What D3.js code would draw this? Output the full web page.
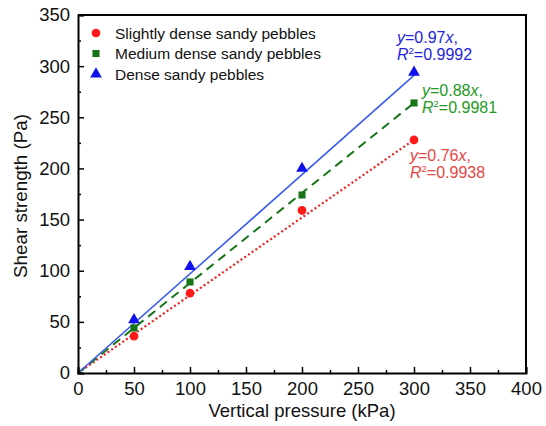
<!DOCTYPE html>
<html>
<head>
    <script src="https://d3js.org/d3.v7.min.js"></script>
    <style>
        body { margin: 0; background: #fff; }
        text { font-family: "Liberation Sans", Arial, sans-serif; }
    </style>
</head>
<body>
<div id="chart"></div>
<script>
    // data
    const pressure = [50, 100, 200, 300];
    const slightly = [36, 78, 159, 228];
    const medium = [44, 89, 174, 264];
    const dense = [52, 104, 200, 294];
    const slopes = [0.76, 0.88, 0.97];
    const r2 = ["0.9938", "0.9981", "0.9992"];
    const names = ["Slightly dense sandy pebbles", "Medium dense sandy pebbles", "Dense sandy pebbles"];
    const xTicks = [0, 50, 100, 150, 200, 250, 300, 350, 400];
    const yTicks = [0, 50, 100, 150, 200, 250, 300, 350];

    const W = 546, H = 426;
    const margin = { top: 15, right: 20, bottom: 53, left: 78 };
    const width = W - margin.left - margin.right;
    const height = H - margin.top - margin.bottom;

    const svg = d3.select("#chart").append("svg")
        .attr("width", W).attr("height", H);
    const g = svg.append("g")
        .attr("transform", `translate(${margin.left},${margin.top})`);

    const x = d3.scaleLinear().domain([0, 400]).range([0, width]);
    const y = d3.scaleLinear().domain([0, 350]).range([height, 0]);

    const series = [
        { name: names[0], values: slightly, slope: slopes[0], r2: r2[0], color: "#ff1a1a", textColor: "#e84545", dash: "2,2.5", width: 2.2, shape: d3.symbolCircle, size: 60 },
        { name: names[1], values: medium, slope: slopes[1], r2: r2[1], color: "#167516", textColor: "#239a23", dash: "9,6", width: 2, shape: d3.symbolSquare, size: 50 },
        { name: names[2], values: dense, slope: slopes[2], r2: r2[2], color: "#1010ee", textColor: "#2424dd", dash: null, width: 1.6, shape: d3.symbolTriangle, size: 60 }
    ];
    const lineColors = ["#f02020", "#167516", "#3a5cf0"];

    // fitted lines through origin
    series.forEach((s, i) => {
        const line = g.append("line")
            .attr("x1", x(0)).attr("y1", y(0))
            .attr("x2", x(300)).attr("y2", y(s.slope * 300))
            .attr("stroke", lineColors[i])
            .attr("stroke-width", s.width);
        if (s.dash) line.attr("stroke-dasharray", s.dash);
    });

    // points
    series.forEach(s => {
        g.selectAll(null)
            .data(s.values.map((v, j) => [pressure[j], v]))
            .enter().append("path")
            .attr("d", d3.symbol().type(s.shape).size(s.size))
            .attr("transform", d => `translate(${x(d[0])},${y(d[1])})`)
            .attr("fill", s.color);
    });

    // axes with inward ticks
    const xMinor = d3.range(25, 400, 50);
    const yMinor = d3.range(25, 350, 50);

    g.append("g").attr("transform", `translate(0,${height})`)
        .call(d3.axisBottom(x).tickValues(xTicks).tickSize(-6).tickPadding(9).tickFormat(d3.format("d")));
    g.append("g").attr("transform", `translate(0,${height})`)
        .call(d3.axisBottom(x).tickValues(xMinor).tickSize(-3).tickFormat(""))
        .select(".domain").remove();
    g.append("g")
        .call(d3.axisLeft(y).tickValues(yTicks).tickSize(-6).tickPadding(8).tickFormat(d3.format("d")));
    g.append("g")
        .call(d3.axisLeft(y).tickValues(yMinor).tickSize(-3).tickFormat(""))
        .select(".domain").remove();

    g.selectAll(".domain").attr("stroke", "#000").attr("stroke-width", 2);
    g.selectAll(".tick line").attr("stroke", "#000").attr("stroke-width", 1.5);
    g.selectAll(".tick text").attr("font-size", 18.5).attr("fill", "#111")
        .style("font-family", "'Liberation Sans', Arial, sans-serif");

    // top and right frame
    g.append("path")
        .attr("d", `M0,0H${width}V${height}`)
        .attr("fill", "none").attr("stroke", "#000").attr("stroke-width", 2);

    // axis titles
    g.append("text")
        .attr("x", width / 2).attr("y", height + 44)
        .attr("text-anchor", "middle").attr("font-size", 18.5).attr("fill", "#111")
        .text("Vertical pressure (kPa)");
    g.append("text")
        .attr("transform", "rotate(-90)")
        .attr("x", -181).attr("y", -51)
        .attr("text-anchor", "middle").attr("font-size", 18.8).attr("fill", "#111")
        .text("Shear strength (Pa)");

    // legend
    const legend = g.append("g").attr("transform", "translate(18,18)");
    series.forEach((s, i) => {
        const row = legend.append("g").attr("transform", `translate(0,${i * 20.5})`);
        row.append("path")
            .attr("d", d3.symbol().type(s.shape).size(s.size))
            .attr("fill", s.color);
        row.append("text")
            .attr("x", 19).attr("y", 5.5)
            .attr("font-size", 15.5).attr("fill", "#111")
            .text(s.name);
    });

    // fit equations
    const labelPos = [[332, 146], [344, 81], [319, 28]];
    series.forEach((s, i) => {
        const t = g.append("g").attr("transform", `translate(${labelPos[i][0]},${labelPos[i][1]})`)
            .attr("fill", s.textColor).style("font-size", "16px");
        const l1 = t.append("text");
        l1.append("tspan").attr("font-style", "italic").text("y");
        l1.append("tspan").text("=" + s.slope.toFixed(2));
        l1.append("tspan").attr("font-style", "italic").text("x");
        l1.append("tspan").text(",");
        const l2 = t.append("text").attr("y", 17);
        l2.append("tspan").attr("font-style", "italic").text("R");
        l2.append("tspan").attr("font-size", 9.5).attr("dy", -6).text("2");
        l2.append("tspan").attr("dy", 6).text("=" + s.r2);
    });
</script>
</body>
</html>
